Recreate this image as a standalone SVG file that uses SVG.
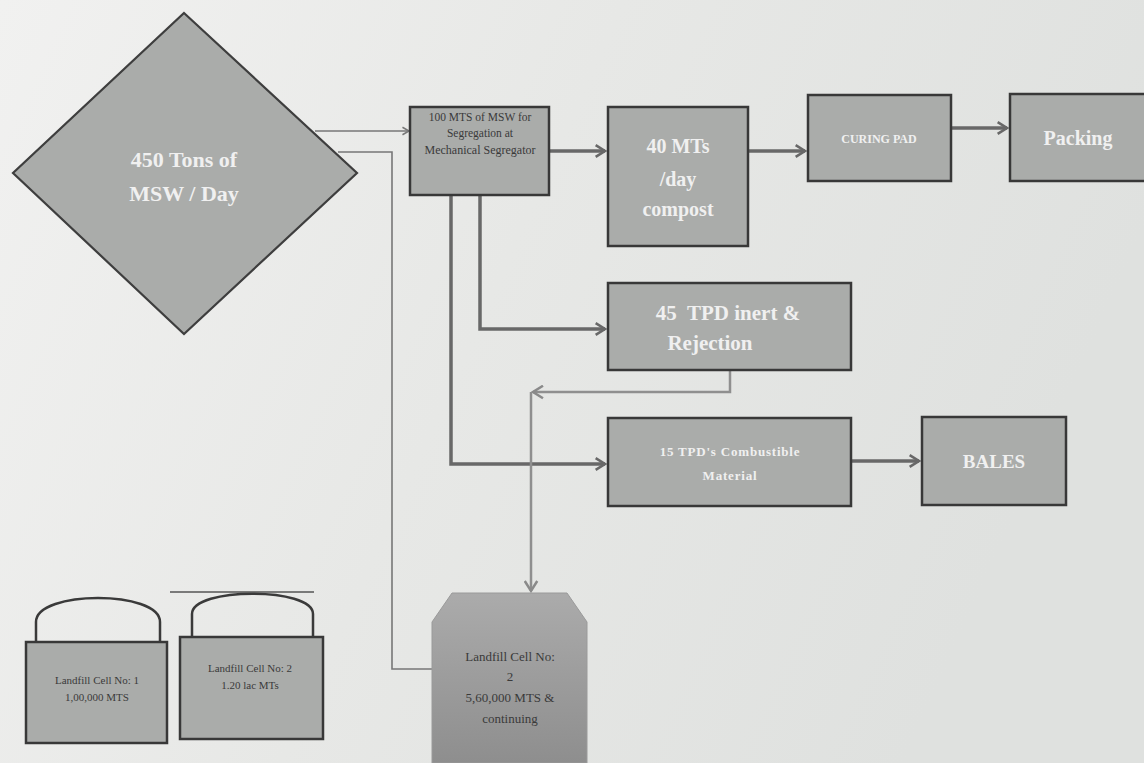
<svg xmlns="http://www.w3.org/2000/svg" width="1144" height="763" viewBox="0 0 1144 763">
<defs>
<linearGradient id="bg" x1="0" y1="0" x2="1" y2="0.3">
<stop offset="0" stop-color="#f1f1f0"/>
<stop offset="0.5" stop-color="#e7e8e6"/>
<stop offset="1" stop-color="#dfe1df"/>
</linearGradient>
<linearGradient id="lf" x1="0" y1="0" x2="0" y2="1">
<stop offset="0" stop-color="#ababab"/>
<stop offset="1" stop-color="#8e8e8e"/>
</linearGradient>
<marker id="chev" viewBox="0 0 12 12" refX="10" refY="6" markerWidth="4" markerHeight="4" orient="auto" markerUnits="strokeWidth">
<path d="M2,1 L10,6 L2,11" fill="none" stroke="#686868" stroke-width="2.2"/>
</marker>
<marker id="chevT" viewBox="0 0 12 12" refX="10" refY="6" markerWidth="7" markerHeight="7" orient="auto" markerUnits="strokeWidth">
<path d="M3,2 L10,6 L3,10" fill="none" stroke="#777" stroke-width="1.6"/>
</marker>
<marker id="chevL" viewBox="0 0 12 12" refX="10" refY="6" markerWidth="6" markerHeight="6" orient="auto" markerUnits="strokeWidth">
<path d="M2,1 L10,6 L2,11" fill="none" stroke="#8a8a8a" stroke-width="2"/>
</marker>
</defs>
<style>
.box{fill:#aaacaa;stroke:#383838;stroke-width:2.5}
.wt{fill:#f0f0f0;font-family:"Liberation Serif",serif;text-anchor:middle}
.dk{fill:#3a3a3a;font-family:"Liberation Serif",serif;text-anchor:middle}
.arr{fill:none;stroke:#686868;stroke-width:3.5;marker-end:url(#chev)}
.thin{fill:none;stroke:#777;stroke-width:1.6}
.light{fill:none;stroke:#8f8f8f;stroke-width:2.5}
.dome{fill:none;stroke:#3a3a3a;stroke-width:2.5}
</style>
<rect x="0" y="0" width="1144" height="763" fill="url(#bg)"/>

<g id="connectors">
<path class="thin" d="M315,131 L409,131" marker-end="url(#chevT)"/>
<path class="thin" d="M338,152 L392,152 L392,669 L432,669"/>
<path class="arr" d="M549,151 L605,151"/>
<path class="arr" d="M748,151 L805,151"/>
<path class="arr" d="M951,128 L1007,128"/>
<path class="arr" d="M480,195 L480,329 L605,329"/>
<path class="arr" d="M451,195 L451,464 L605,464"/>
<path class="arr" d="M852,461 L919,461"/>
<path class="light" d="M730,370 L730,392 L533,392" marker-end="url(#chevL)"/>
<path class="light" d="M531,392 L531,591" marker-end="url(#chevL)"/>
</g>

<g id="msw">
<polygon points="184,13 357,173 184,334 13,173" fill="#aaacaa" stroke="#3e3e3e" stroke-width="2.2"/>
<text class="wt" x="184" y="167" font-size="22" font-weight="bold">450 Tons of</text>
<text class="wt" x="184" y="201" font-size="22" font-weight="bold">MSW / Day</text>
</g>

<g id="segregator">
<rect class="box" x="410" y="107" width="139" height="88"/>
<text class="dk" x="480" y="121" font-size="11.5">100 MTS of MSW for</text>
<text class="dk" x="480" y="137" font-size="11.5">Segregation at</text>
<text class="dk" x="480" y="154" font-size="12">Mechanical Segregator</text>
</g>

<g id="compost">
<rect class="box" x="608" y="107" width="140" height="139"/>
<text class="wt" x="678" y="153" font-size="20" font-weight="bold">40 MTs</text>
<text class="wt" x="678" y="186" font-size="20" font-weight="bold">/day</text>
<text class="wt" x="678" y="216" font-size="20" font-weight="bold">compost</text>
</g>

<g id="curing">
<rect class="box" x="808" y="95" width="143" height="86"/>
<text class="wt" x="879" y="143" font-size="12" font-weight="bold">CURING PAD</text>
</g>

<g id="packing">
<rect class="box" x="1010" y="94" width="136" height="87"/>
<text class="wt" x="1078" y="145" font-size="20" font-weight="bold">Packing</text>
</g>

<g id="inert">
<rect class="box" x="608" y="283" width="243" height="87"/>
<text class="wt" x="728" y="320" font-size="21" font-weight="bold" xml:space="preserve">45  TPD inert &amp;</text>
<text class="wt" x="710" y="350" font-size="21" font-weight="bold">Rejection</text>
</g>

<g id="combustible">
<rect class="box" x="608" y="418" width="243" height="88"/>
<text class="wt" x="730" y="456" font-size="13" font-weight="bold" letter-spacing="0.8">15 TPD's  Combustible</text>
<text class="wt" x="730" y="480" font-size="13" font-weight="bold" letter-spacing="0.8">Material</text>
</g>

<g id="bales">
<rect class="box" x="922" y="417" width="144" height="88"/>
<text class="wt" x="994" y="468" font-size="19" font-weight="bold">BALES</text>
</g>

<g id="landfill-main">
<polygon points="432,763 432,622 452,593 567,593 587,622 587,763" fill="url(#lf)" stroke="#9a9a9a" stroke-width="1"/>
<text class="dk" x="510" y="661" font-size="13">Landfill Cell No:</text>
<text class="dk" x="510" y="681" font-size="13">2</text>
<text class="dk" x="510" y="702" font-size="13">5,60,000 MTS &amp;</text>
<text class="dk" x="510" y="723" font-size="13">continuing</text>
</g>

<g id="landfill-1">
<path class="dome" d="M36,642 L36,622 C36,590 160,590 160,622 L160,642"/>
<rect class="box" x="26" y="642" width="141" height="101"/>
<text class="dk" x="97" y="684" font-size="11">Landfill Cell No: 1</text>
<text class="dk" x="97" y="701" font-size="11">1,00,000 MTS</text>
</g>

<g id="landfill-2">
<line x1="170" y1="592" x2="314" y2="592" stroke="#555" stroke-width="1.5"/>
<path class="dome" d="M192,637 L192,614 C192,587 313,587 313,614 L313,637"/>
<rect class="box" x="180" y="637" width="143" height="102"/>
<text class="dk" x="250" y="672" font-size="11">Landfill Cell No: 2</text>
<text class="dk" x="250" y="689" font-size="11">1.20 lac MTs</text>
</g>
</svg>
